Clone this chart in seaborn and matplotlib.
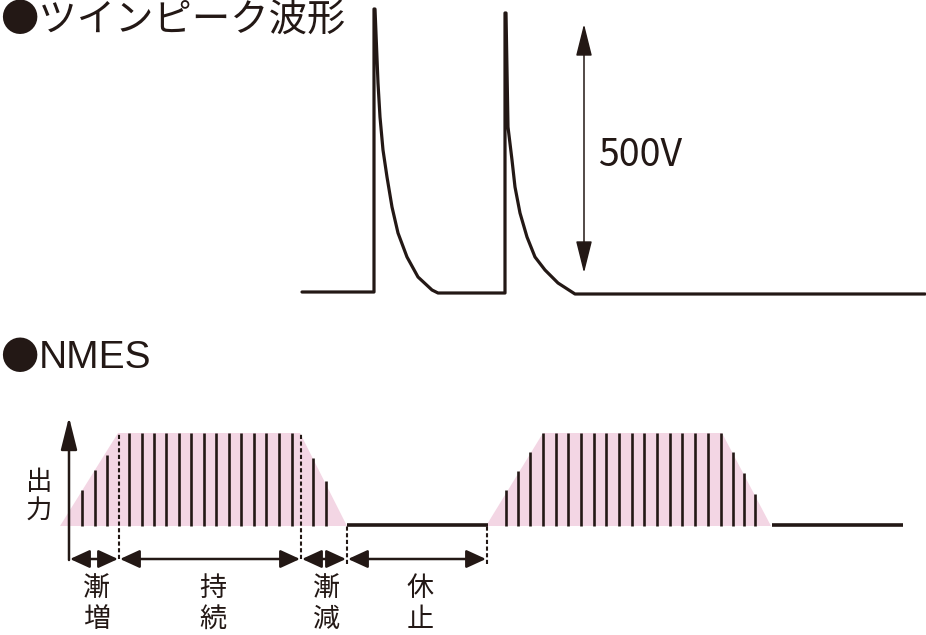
import numpy as np
import pandas as pd
import seaborn as sns
import matplotlib.pyplot as plt

sns.set_theme(style="white")
plt.rcParams['font.family'] = ['Noto Sans CJK JP', 'DejaVu Sans']
plt.rcParams['lines.scale_dashes'] = False

INK = '#231815'
PINK = '#f3d6e4'

# twin peak waveform (time, level above baseline)
twin_t = [302, 374, 374, 375, 378, 380, 383, 387, 392, 398, 407, 418, 432, 438,
          505, 505, 506, 508, 512, 515, 520, 527, 535, 545, 558, 575, 925]
twin_v = [1, 1, 284, 284, 210, 176, 143, 116, 86, 60, 36, 16, 3, 0,
          0, 280, 280, 166, 133, 106, 80, 56, 36, 23, 10, -1, -1]

# NMES envelopes
env_v = [0, 93, 93, 0]
env1_t = [60, 118, 300, 347]
env2_t = [486, 543, 722, 771]

# NMES pulses
pulse1_t = [82, 95, 107, 129, 142, 154, 166, 179, 191, 204, 216, 229, 241,
            254, 266, 279, 292, 313, 326]
pulse1_v = [36, 56, 71] + [93] * 14 + [68, 45]
pulse2_t = [506, 518, 530, 543, 556, 568, 581, 594, 606, 619, 632, 644, 657,
            670, 682, 695, 708, 721, 733, 744, 755]
pulse2_v = [36, 55, 74] + [93] * 15 + [74, 53, 32]

# rest segments
rest_t = [347, 488]
tail_t = [772, 903]

# phases
phase_edges = [69, 119, 301, 347, 487]
phase_labels = ['漸増', '持続', '漸減', '休止']

W, H = 926, 635
fig = plt.figure(figsize=(W / 100, H / 100), dpi=100)

ax_top = fig.add_axes([0, (H - 320) / H, 1, 320 / H])
ax_top.set_xlim(0, W)
ax_top.set_ylim(-27, 293)
ax_bot = fig.add_axes([0, 0, 1, (H - 320) / H])
ax_bot.set_xlim(0, W)
ax_bot.set_ylim(-109, 206)
for ax in (ax_top, ax_bot):
    ax.set_axis_off()

# --- twin peak ---
df_twin = pd.DataFrame({'t': twin_t, 'v': twin_v})
sns.lineplot(data=df_twin, x='t', y='v', sort=False, color=INK, lw=2.3,
             ax=ax_top, estimator=None)
ax_top.lines[-1].set_solid_joinstyle('round')
ax_top.annotate('', xy=(584, 269), xytext=(584, 20),
                arrowprops=dict(arrowstyle='<|-|>,head_length=2.0,head_width=0.5',
                                color=INK, lw=1.1, shrinkA=0, shrinkB=0,
                                mutation_scale=10))
ax_top.text(598, 138, '500V', fontsize=27, color=INK, va='center', ha='left')
ax_top.text(0, 273, '●ツインピーク波形', fontsize=27.6, color=INK, va='center', ha='left')

# --- NMES ---
ax_bot.text(0, 168, '●', fontsize=27.6, color=INK, va='center', ha='left')
ax_bot.text(39, 168, 'NMES', fontsize=28, color=INK, va='center', ha='left',
            family=['Liberation Sans', 'DejaVu Sans'])
ax_bot.fill(env1_t, env_v, color=PINK, lw=0)
ax_bot.fill(env2_t, env_v, color=PINK, lw=0)
ax_bot.vlines(pulse1_t, 0, pulse1_v, color=INK, lw=1.9)
ax_bot.vlines(pulse2_t, 0, pulse2_v, color=INK, lw=1.9)
ax_bot.plot(rest_t, [1, 1], color=INK, lw=2.6, solid_capstyle='butt')
ax_bot.plot(tail_t, [1, 1], color=INK, lw=2.6, solid_capstyle='butt')

# output axis
ax_bot.annotate('', xy=(69, 109), xytext=(69, -34),
                arrowprops=dict(arrowstyle='-|>,head_length=2.0,head_width=0.5',
                                color=INK, lw=1.8, shrinkA=0, shrinkB=0,
                                mutation_scale=10))
ax_bot.text(39, 29, '出\n力', fontsize=19, color=INK, va='center', ha='center',
            linespacing=1.1)

# phase markers
arrow_row = -33
ax_bot.vlines([phase_edges[1], phase_edges[2]], arrow_row, 93, color=INK, lw=1.5,
              linestyles=(0, (3, 1.8)))
ax_bot.vlines([phase_edges[3], phase_edges[4]], arrow_row - 5, 1, color=INK, lw=1.5,
              linestyles=(0, (3, 1.8)))
for (a, b), lab in zip(zip(phase_edges[:-1], phase_edges[1:]), phase_labels):
    ax_bot.annotate('', xy=(b - 1, arrow_row), xytext=(a + 1, arrow_row),
                    arrowprops=dict(arrowstyle='<|-|>,head_length=1.2,head_width=0.55',
                                    color=INK, lw=1.8, shrinkA=0, shrinkB=0,
                                    mutation_scale=10))
    ax_bot.text((a + b) / 2 + 3, -78, lab[0] + '\n' + lab[1], fontsize=19.5, color=INK,
                va='center', ha='center', linespacing=1.15)

fig.savefig('out.png', dpi=100, facecolor='white')
